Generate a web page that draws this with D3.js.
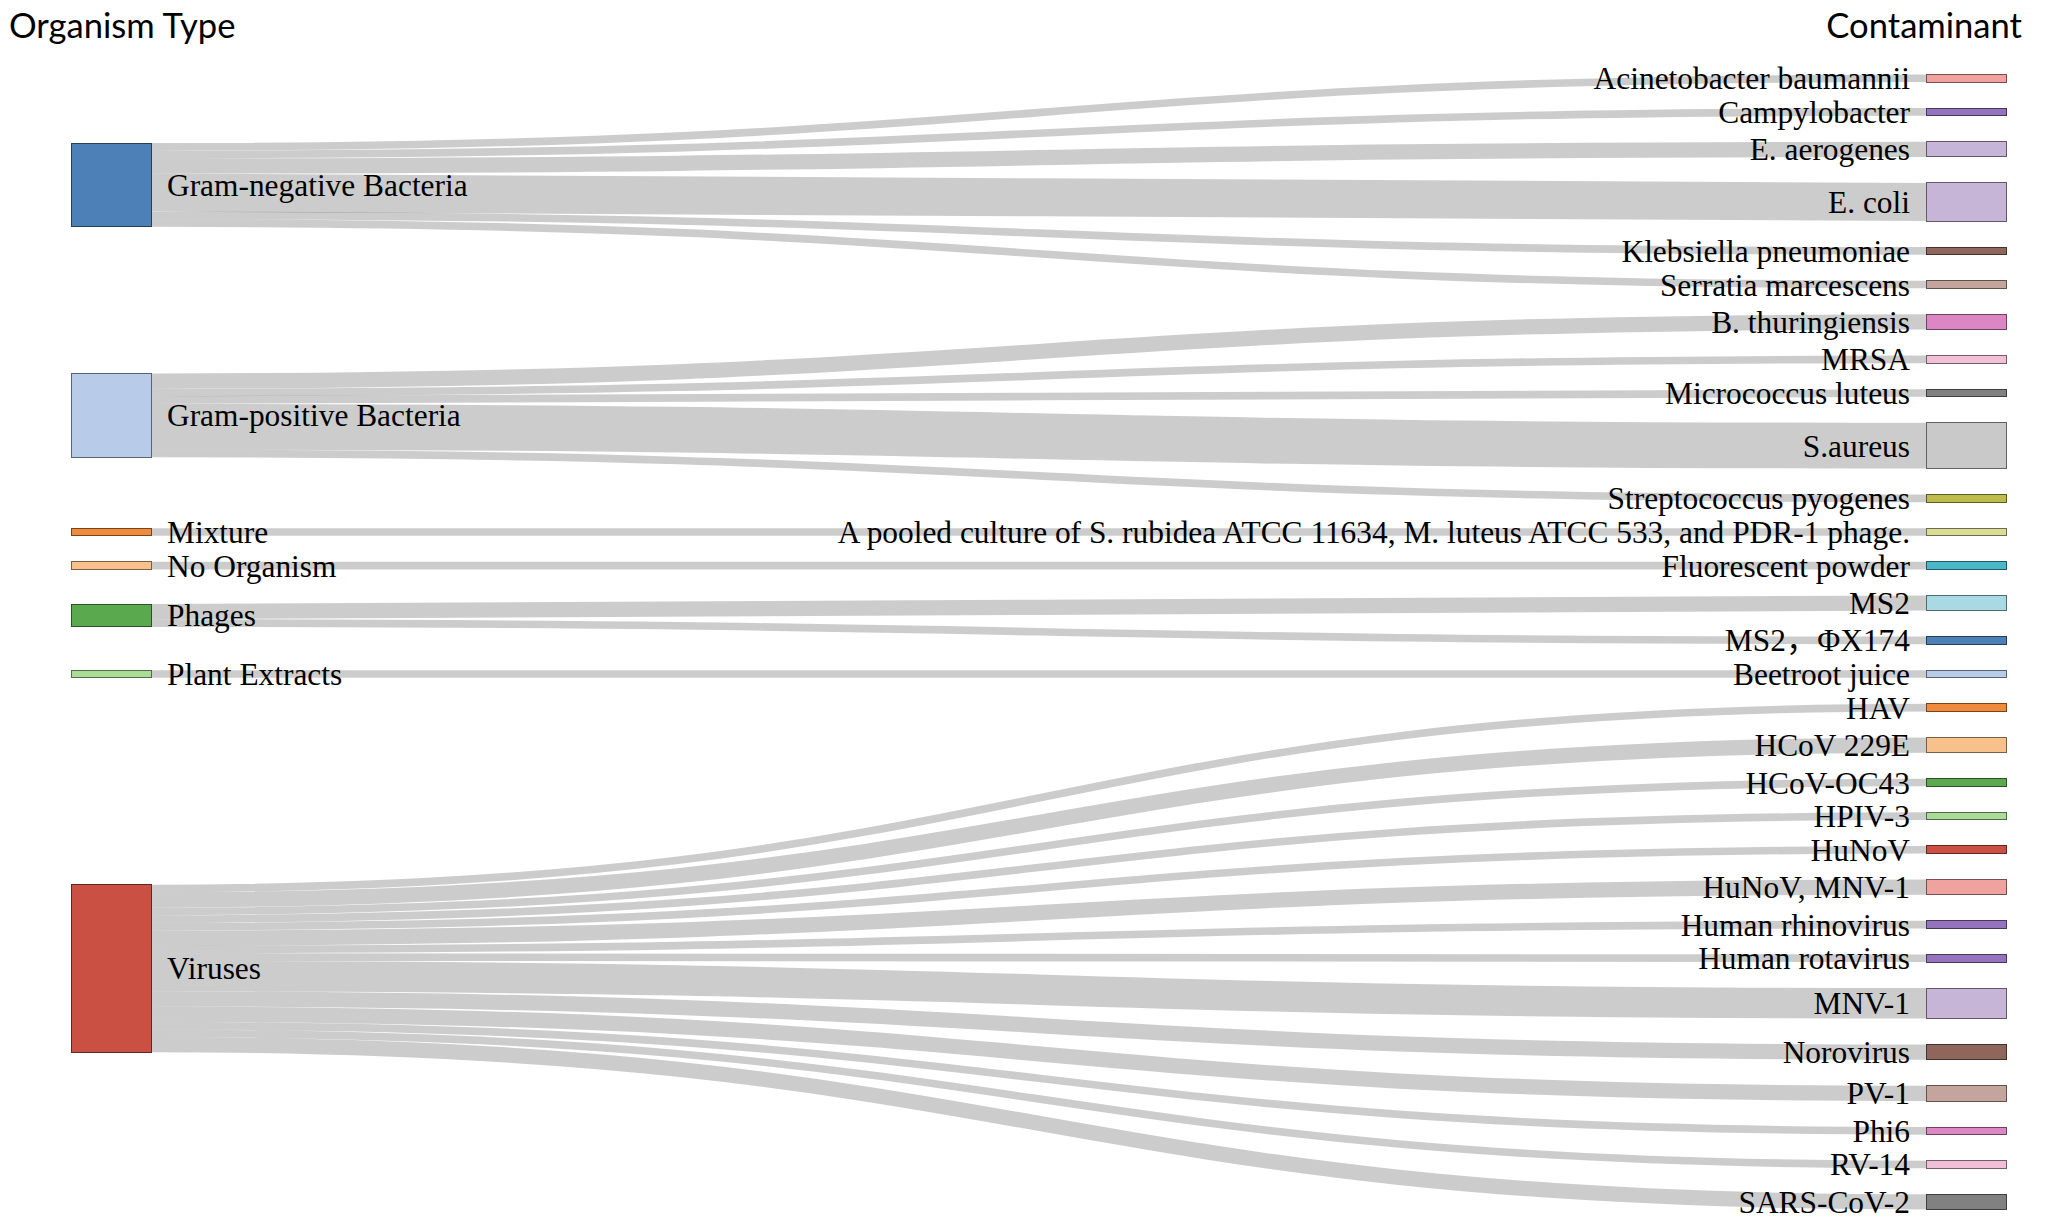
<!DOCTYPE html>
<html>
<head>
<meta charset="utf-8">
<script src="https://cdn.jsdelivr.net/npm/d3@7"></script>
<style>
html, body { margin: 0; padding: 0; background: #ffffff; }
svg { display: block; }
.lbl { font-family: "Times New Roman", "Liberation Serif", "Noto Sans CJK SC", serif; font-size: 31.4px; fill: #000; }
.title { font-family: Lato, "Open Sans", sans-serif; font-size: 34.6px; fill: #000; }
</style>
</head>
<body>
<svg id="chart" width="2070" height="1232"></svg>
<script>
// ---------------- data ----------------
const organismTypes = [
  "Gram-negative Bacteria", "Gram-positive Bacteria", "Mixture", "No Organism",
  "Phages", "Plant Extracts", "Viruses"
];
const contaminants = [
  "Acinetobacter baumannii", "Campylobacter", "E. aerogenes", "E. coli",
  "Klebsiella pneumoniae", "Serratia marcescens",
  "B. thuringiensis", "MRSA", "Micrococcus luteus", "S.aureus", "Streptococcus pyogenes",
  "A pooled culture of S. rubidea ATCC 11634, M. luteus ATCC 533, and PDR-1 phage.",
  "Fluorescent powder",
  "MS2", "MS2，ΦX174",
  "Beetroot juice",
  "HAV", "HCoV 229E", "HCoV-OC43", "HPIV-3", "HuNoV", "HuNoV, MNV-1",
  "Human rhinovirus", "Human rotavirus", "MNV-1", "Norovirus", "PV-1", "Phi6",
  "RV-14", "SARS-CoV-2"
];
const contaminantOrganism = [
  "Gram-negative Bacteria", "Gram-negative Bacteria", "Gram-negative Bacteria", "Gram-negative Bacteria",
  "Gram-negative Bacteria", "Gram-negative Bacteria",
  "Gram-positive Bacteria", "Gram-positive Bacteria", "Gram-positive Bacteria", "Gram-positive Bacteria", "Gram-positive Bacteria",
  "Mixture",
  "No Organism",
  "Phages", "Phages",
  "Plant Extracts",
  "Viruses", "Viruses", "Viruses", "Viruses", "Viruses", "Viruses",
  "Viruses", "Viruses", "Viruses", "Viruses", "Viruses", "Viruses",
  "Viruses", "Viruses"
];
const contaminantCount = [
  1, 1, 2, 5,
  1, 1,
  2, 1, 1, 6, 1,
  1,
  1,
  2, 1,
  1,
  1, 2, 1, 1, 1, 2,
  1, 1, 4, 2, 2, 1,
  1, 2
];
const columnTitles = ["Organism Type", "Contaminant"];
const palette = [
  "#4e80b8", "#b8cbe8", "#f08a3c", "#f7c18c", "#5aa94f", "#a8dc97",
  "#cb5044", "#f0a29f", "#9473bf", "#c6b5d6", "#8e665c", "#c3a59d",
  "#dc86c4", "#f1bfd6", "#818181", "#c9c9c9", "#bcbd4b", "#dcdc99",
  "#4bb8c9", "#a9dae3"
];

// ---------------- sankey layout (port of d3-sankey 0.12) ----------------
function sankeyLayout(nodes, links, o) {
  const X0 = o.x0, Y0 = o.y0, X1 = o.x1, Y1 = o.y1, DX = o.nodeWidth, iterations = o.iterations;
  let py;
  const ascBreadth = (a, b) => a.y0 - b.y0;
  const ascSrc = (a, b) => ascBreadth(a.source, b.source) || a.index - b.index;
  const ascTgt = (a, b) => ascBreadth(a.target, b.target) || a.index - b.index;

  nodes.forEach((n, i) => { n.index = i; n.sourceLinks = []; n.targetLinks = []; });
  const byId = new Map(nodes.map(n => [n.name, n]));
  links.forEach((l, i) => {
    l.index = i;
    l.source = byId.get(l.source); l.target = byId.get(l.target);
    l.source.sourceLinks.push(l); l.target.targetLinks.push(l);
  });
  nodes.forEach(n => n.value = Math.max(d3.sum(n.sourceLinks, d => d.value), d3.sum(n.targetLinks, d => d.value)));
  let current = new Set(nodes), next = new Set, x = 0;
  while (current.size) {
    for (const n of current) { n.depth = x; for (const { target } of n.sourceLinks) next.add(target); }
    ++x; current = next; next = new Set;
  }
  const nLayers = d3.max(nodes, d => d.depth) + 1;
  const kx = (X1 - X0 - DX) / (nLayers - 1);
  const columns = new Array(nLayers);
  for (const n of nodes) {
    const i = n.sourceLinks.length ? n.depth : nLayers - 1; // justify
    n.layer = i; n.x0 = X0 + i * kx; n.x1 = n.x0 + DX;
    (columns[i] || (columns[i] = [])).push(n);
  }
  py = Math.min(o.nodePadding, (Y1 - Y0) / (d3.max(columns, c => c.length) - 1));
  const ky = d3.min(columns, c => (Y1 - Y0 - (c.length - 1) * py) / d3.sum(c, d => d.value));

  function reorderLinks(ns) {
    for (const { sourceLinks, targetLinks } of ns) { sourceLinks.sort(ascTgt); targetLinks.sort(ascSrc); }
  }
  function reorderNodeLinks({ sourceLinks, targetLinks }) {
    for (const { source: { sourceLinks } } of targetLinks) sourceLinks.sort(ascTgt);
    for (const { target: { targetLinks } } of sourceLinks) targetLinks.sort(ascSrc);
  }
  for (const ns of columns) {
    let y = Y0;
    for (const n of ns) {
      n.y0 = y; n.y1 = y + n.value * ky; y = n.y1 + py;
      for (const l of n.sourceLinks) l.width = l.value * ky;
    }
    y = (Y1 - y + py) / (ns.length + 1);
    ns.forEach((n, i) => { n.y0 += y * (i + 1); n.y1 += y * (i + 1); });
    reorderLinks(ns);
  }
  function targetTop(source, target) {
    let y = source.y0 - (source.sourceLinks.length - 1) * py / 2;
    for (const { target: n, width } of source.sourceLinks) { if (n === target) break; y += width + py; }
    for (const { source: n, width } of target.targetLinks) { if (n === source) break; y -= width; }
    return y;
  }
  function sourceTop(source, target) {
    let y = target.y0 - (target.targetLinks.length - 1) * py / 2;
    for (const { source: n, width } of target.targetLinks) { if (n === source) break; y += width + py; }
    for (const { target: n, width } of source.sourceLinks) { if (n === target) break; y -= width; }
    return y;
  }
  function topToBottom(ns, y, i, a) {
    for (; i < ns.length; ++i) {
      const n = ns[i]; const d = (y - n.y0) * a;
      if (d > 1e-6) { n.y0 += d; n.y1 += d; }
      y = n.y1 + py;
    }
  }
  function bottomToTop(ns, y, i, a) {
    for (; i >= 0; --i) {
      const n = ns[i]; const d = (n.y1 - y) * a;
      if (d > 1e-6) { n.y0 -= d; n.y1 -= d; }
      y = n.y0 - py;
    }
  }
  function resolve(ns, a) {
    const i = ns.length >> 1, s = ns[i];
    bottomToTop(ns, s.y0 - py, i - 1, a);
    topToBottom(ns, s.y1 + py, i + 1, a);
    bottomToTop(ns, Y1, ns.length - 1, a);
    topToBottom(ns, Y0, 0, a);
  }
  function relaxLR(alpha, beta) {
    for (let i = 1; i < columns.length; ++i) {
      const col = columns[i];
      for (const t of col) {
        let y = 0, w = 0;
        for (const { source, value } of t.targetLinks) {
          const v = value * (t.layer - source.layer);
          y += targetTop(source, t) * v; w += v;
        }
        if (!(w > 0)) continue;
        const d = (y / w - t.y0) * alpha;
        t.y0 += d; t.y1 += d; reorderNodeLinks(t);
      }
      col.sort(ascBreadth);
      resolve(col, beta);
    }
  }
  function relaxRL(alpha, beta) {
    for (let i = columns.length - 2; i >= 0; --i) {
      const col = columns[i];
      for (const s of col) {
        let y = 0, w = 0;
        for (const { target, value } of s.sourceLinks) {
          const v = value * (target.layer - s.layer);
          y += sourceTop(s, target) * v; w += v;
        }
        if (!(w > 0)) continue;
        const d = (y / w - s.y0) * alpha;
        s.y0 += d; s.y1 += d; reorderNodeLinks(s);
      }
      col.sort(ascBreadth);
      resolve(col, beta);
    }
  }
  for (let i = 0; i < iterations; ++i) {
    const alpha = Math.pow(0.99, i);
    const beta = Math.max(1 - alpha, (i + 1) / iterations);
    relaxRL(alpha, beta);
    relaxLR(alpha, beta);
  }
  for (const n of nodes) {
    let a = n.y0, b = n.y0;
    for (const l of n.sourceLinks) { l.y0 = a + l.width / 2; a += l.width; }
    for (const l of n.targetLinks) { l.y1 = b + l.width / 2; b += l.width; }
  }
  return { nodes, links };
}

// ---------------- build graph ----------------
const nodes = organismTypes.map(name => ({ name }))
  .concat(contaminants.map(name => ({ name })));
const links = contaminants.map((c, i) => ({
  source: contaminantOrganism[i], target: c, value: contaminantCount[i]
}));

const W = 2070, H = 1232;
const graph = sankeyLayout(nodes, links, {
  x0: 71, y0: 74.5, x1: 2006, y1: 1209.5, nodeWidth: 80, nodePadding: 26, iterations: 1
});

const color = d3.scaleOrdinal(palette);
const svg = d3.select("#chart");

svg.append("rect").attr("width", W).attr("height", H).attr("fill", "#fff");

// links
svg.append("g")
  .attr("fill", "none")
  .attr("stroke", "#000")
  .attr("stroke-opacity", 0.2)
  .selectAll("path")
  .data(graph.links)
  .join("path")
  .attr("d", d3.linkHorizontal()
    .source(d => [d.source.x1, d.y0])
    .target(d => [d.target.x0, d.y1]))
  .attr("stroke-width", d => Math.max(1, d.width));

// nodes
const node = svg.append("g").selectAll("g")
  .data(graph.nodes)
  .join("g");

node.append("rect")
  .attr("x", d => d.x0)
  .attr("y", d => d.y0)
  .attr("width", d => d.x1 - d.x0)
  .attr("height", d => Math.max(1, d.y1 - d.y0))
  .attr("fill", d => (d.color = color(d.name.replace(/ .*/, ""))))
  .attr("stroke", d => d3.rgb(d.color).darker(2))
  .attr("stroke-width", 1)
  .attr("shape-rendering", "crispEdges");

node.append("text")
  .attr("class", "lbl")
  .attr("x", d => d.x0 < W / 2 ? d.x1 + 16 : d.x0 - 16)
  .attr("y", d => (d.y0 + d.y1) / 2)
  .attr("dy", "0.35em")
  .attr("text-anchor", d => d.x0 < W / 2 ? "start" : "end")
  .text(d => d.name);

// column titles
svg.append("text").attr("class", "title")
  .attr("x", 9).attr("y", 38).attr("text-anchor", "start")
  .text(columnTitles[0]);
svg.append("text").attr("class", "title")
  .attr("x", 2022).attr("y", 38).attr("text-anchor", "end")
  .text(columnTitles[1]);
</script>
</body>
</html>
